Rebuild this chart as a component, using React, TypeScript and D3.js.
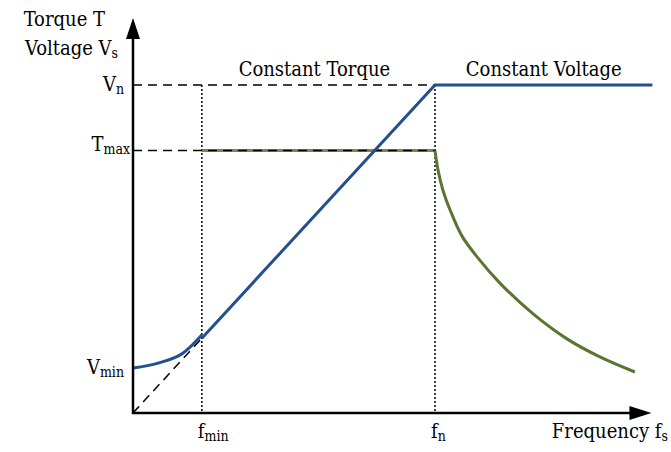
import React from 'react';
import { scaleLinear, line, curveMonotoneX, curveCatmullRom } from 'd3';

const width = 671;
const height = 452;

// frequency in units of f_n, torque / voltage in units of V_n
const fMin = 0.228;
const fN = 1;
const fEnd = 1.72;
const vN = 1;
const tMax = 0.8;
const vMin = 0.137;

// low-frequency voltage boost
const boostF = [0, 0.083, 0.166, 0.228];
const boostV = [0.137, 0.152, 0.183, 0.238];

// torque drop above f_n
const dropF = [1.0, 1.01, 1.026, 1.05, 1.089, 1.142, 1.215, 1.325, 1.437, 1.546, 1.662];
const dropT = [0.8, 0.741, 0.68, 0.619, 0.54, 0.473, 0.396, 0.302, 0.226, 0.171, 0.125];

const yLabels = [
  { main: 'V', sub: 'n', value: vN },
  { main: 'T', sub: 'max', value: tMax },
  { main: 'V', sub: 'min', value: vMin },
];
const xLabels = [
  { main: 'f', sub: 'min', value: fMin },
  { main: 'f', sub: 'n', value: fN },
];

const x = scaleLinear().domain([0, 1]).range([133, 435]);
const y = scaleLinear().domain([0, 1]).range([413, 85]);

const blue = '#22508c';
const green = '#5b7530';
const font = '"DejaVu Serif Condensed", "DejaVu Serif", serif';
const fs = 20;
const subFs = 14;

const path = (pts: [number, number][], curve?: any) => {
  const g = line<[number, number]>()
    .x((d) => x(d[0]))
    .y((d) => y(d[1]));
  if (curve) g.curve(curve);
  return g(pts) || '';
};

const Label = ({ main, sub, ...rest }: any) => (
  <text fontFamily={font} fontSize={fs} {...rest}>
    {main}
    <tspan fontSize={subFs} dy={3}>{sub}</tspan>
  </text>
);

const App = () => {
  const boostPath = path(boostF.map((f, i) => [f, boostV[i]] as [number, number]), curveMonotoneX);
  const linearPath = path([
    [fMin, fMin],
    [fN, vN],
    [fEnd, vN],
  ]);
  const flatT = path([
    [fMin, tMax],
    [fN, tMax],
  ]);
  const dropPath = path(
    dropF.map((f, i) => [f, dropT[i]] as [number, number]),
    curveCatmullRom.alpha(0.5)
  );

  const x0 = x(0);
  const y0 = y(0);
  const xTip = x(fEnd) - 1;
  const yTip = 18;

  return (
    <svg width={width} height={height} style={{ position: 'absolute', left: 0, top: 0, background: '#fff' }}>
      {/* guides */}
      <g stroke="#000" strokeWidth={1.5} fill="none">
        <line x1={x0} x2={x(fN)} y1={y(vN)} y2={y(vN)} strokeDasharray="9,6" />
        <line x1={x(fMin)} x2={x(fMin)} y1={y(vN)} y2={y0} strokeDasharray="2,2" />
        <line x1={x(fN)} x2={x(fN)} y1={y(vN)} y2={y0} strokeDasharray="2,2" />
        <line x1={x0} x2={x(fMin)} y1={y0} y2={y(fMin)} strokeDasharray="9,6" />
      </g>
      {/* torque */}
      <path d={flatT} stroke={green} strokeWidth={3} fill="none" opacity={0.85} />
      <line x1={x0} x2={x(fN)} y1={y(tMax)} y2={y(tMax)} stroke="#000" strokeWidth={1.5} strokeDasharray="9,6" />
      <path d={dropPath} stroke={green} strokeWidth={3} fill="none" />
      {/* voltage */}
      <path d={boostPath} stroke={blue} strokeWidth={3} fill="none" />
      <path d={linearPath} stroke={blue} strokeWidth={3} fill="none" />
      {/* axes */}
      <g stroke="#000" strokeWidth={2.5}>
        <line x1={x0} x2={x0} y1={y0 + 1} y2={yTip + 18} />
        <line x1={x0 - 1} x2={xTip - 18} y1={y0} y2={y0} />
      </g>
      <path d={`M${x0},${yTip} L${x0 - 7},${yTip + 21} L${x0 + 7},${yTip + 21} Z`} fill="#000" />
      <path d={`M${xTip},${y0} L${xTip - 22},${y0 - 7} L${xTip - 22},${y0 + 7} Z`} fill="#000" />
      {/* labels */}
      <text fontFamily={font} fontSize={fs} x={105} y={26} textAnchor="end">Torque T</text>
      <Label main="Voltage V" sub="s" x={118} y={55} textAnchor="end" />
      {yLabels.map((d) => (
        <Label
          key={d.sub}
          main={d.main}
          sub={d.sub}
          x={d.sub === 'max' ? 130 : 124}
          y={y(d.value) + (d.sub === 'max' ? 0 : 6)}
          textAnchor="end"
        />
      ))}
      {xLabels.map((d) => (
        <Label key={d.sub} main={d.main} sub={d.sub} x={x(d.value) - 4} y={438} />
      ))}
      <Label main="Frequency f" sub="s" x={668} y={438} textAnchor="end" />
      <text fontFamily={font} fontSize={fs} x={(x(fMin) + x(fN)) / 2 - 4} y={76} textAnchor="middle">
        Constant Torque
      </text>
      <text fontFamily={font} fontSize={fs} x={(x(fN) + x(fEnd)) / 2} y={76} textAnchor="middle">
        Constant Voltage
      </text>
    </svg>
  );
};

export default App;
